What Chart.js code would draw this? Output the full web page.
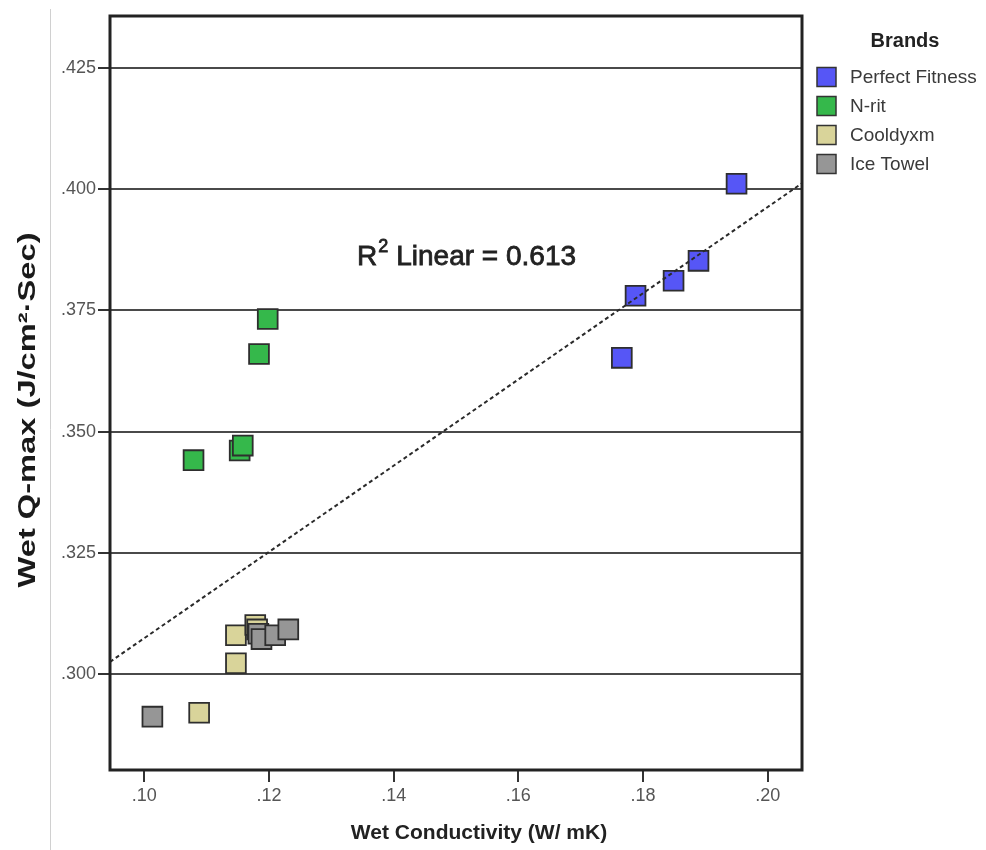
<!DOCTYPE html>
<html>
<head>
<meta charset="utf-8">
<script src="https://cdn.jsdelivr.net/npm/chart.js@4"></script>
<style>
  body { margin: 0; background: #fff; }
</style>
</head>
<body>
<canvas id="chart" width="986" height="850"></canvas>
<script>
const brands = ["Perfect Fitness", "N-rit", "Cooldyxm", "Ice Towel"];
const brandColors = ["#5656f6", "#35b84b", "#d9d49a", "#969696"];

// wet conductivity (x) / wet q-max (y) per brand
const perfectX = [0.1766, 0.1788, 0.1849, 0.1889, 0.1950];
const perfectY = [0.3652, 0.3780, 0.3811, 0.3852, 0.4011];
const nritX = [0.1079, 0.1153, 0.1158, 0.1184, 0.1198];
const nritY = [0.3441, 0.3461, 0.3471, 0.3660, 0.3732];
const cooldyxmX = [0.1088, 0.1147, 0.1147, 0.1178, 0.1181];
const cooldyxmY = [0.2920, 0.3022, 0.3080, 0.3101, 0.3092];
const iceX = [0.1013, 0.1183, 0.1188, 0.1210, 0.1231];
const iceY = [0.2912, 0.3083, 0.3072, 0.3080, 0.3092];

// fit line ends
const trendX = [0.0945, 0.2055];
const trendY = [0.3025, 0.4012];
const rSquared = "0.613";

const xTicks = [0.10, 0.12, 0.14, 0.16, 0.18, 0.20];
const yTicks = [0.300, 0.325, 0.350, 0.375, 0.400, 0.425];

const seriesX = [perfectX, nritX, cooldyxmX, iceX];
const seriesY = [perfectY, nritY, cooldyxmY, iceY];

const toPoints = (xs, ys) => xs.map((x, i) => ({ x: x, y: ys[i] }));

const datasets = brands.map((b, i) => ({
    label: b,
    data: toPoints(seriesX[i], seriesY[i]),
    pointStyle: "rect",
    pointRadius: 14,
    pointHoverRadius: 14,
    backgroundColor: brandColors[i],
    borderColor: "#2e2e2e",
    borderWidth: 1.8,
    order: brands.length - i,
}));
datasets.push({
    label: "fit",
    data: toPoints(trendX, trendY),
    showLine: true,
    borderColor: "#2a2a2a",
    borderWidth: 2,
    borderDash: [4, 3],
    pointRadius: 0,
    order: -1,
});

const FONT = "'Liberation Sans', Arial, sans-serif";

const extras = {
    id: "extras",
    afterDraw(chart) {
        const ctx = chart.ctx;
        const a = chart.chartArea;
        ctx.save();

        // page edge line
        ctx.strokeStyle = "#d0d0d0";
        ctx.lineWidth = 1;
        ctx.beginPath();
        ctx.moveTo(50.5, 9);
        ctx.lineTo(50.5, 850);
        ctx.stroke();

        // plot frame
        ctx.strokeStyle = "#222";
        ctx.lineWidth = 3;
        ctx.strokeRect(a.left, a.top, a.right - a.left, a.bottom - a.top);

        // y title, stretched along its length
        ctx.save();
        ctx.translate(28, 410);
        ctx.rotate(-Math.PI / 2);
        ctx.font = "bold 24px " + FONT;
        ctx.fillStyle = "#1a1a1a";
        ctx.textAlign = "center";
        ctx.textBaseline = "middle";
        const yt = "Wet Q-max (J/cm\u00B2\u00B7Sec)";
        const w = ctx.measureText(yt).width;
        ctx.scale(355 / w, 1);
        ctx.fillText(yt, 0, 0);
        ctx.restore();

        // x title
        ctx.font = "bold 21px " + FONT;
        ctx.fillStyle = "#222";
        ctx.textAlign = "center";
        ctx.textBaseline = "middle";
        ctx.fillText("Wet Conductivity (W/ mK)", 479, 833);

        // R squared note, slightly heavier than regular
        ctx.fillStyle = "#222";
        ctx.strokeStyle = "#222";
        ctx.lineWidth = 0.8;
        ctx.textBaseline = "alphabetic";
        ctx.textAlign = "left";
        ctx.font = "28px " + FONT;
        let x = 357;
        ctx.fillText("R", x, 265);
        ctx.strokeText("R", x, 265);
        x += ctx.measureText("R").width;
        ctx.font = "18px " + FONT;
        ctx.fillText("2", x + 1, 252);
        ctx.strokeText("2", x + 1, 252);
        x += ctx.measureText("2").width + 9;
        ctx.font = "28px " + FONT;
        ctx.fillText("Linear = " + rSquared, x, 265);
        ctx.strokeText("Linear = " + rSquared, x, 265);

        // legend
        ctx.font = "bold 20px " + FONT;
        ctx.textAlign = "center";
        ctx.textBaseline = "middle";
        ctx.fillStyle = "#222";
        ctx.fillText("Brands", 905, 41);
        ctx.font = "19px " + FONT;
        ctx.textAlign = "left";
        brands.forEach((b, i) => {
            const cy = 77 + i * 29;
            ctx.fillStyle = brandColors[i];
            ctx.fillRect(817, cy - 9.5, 19, 19);
            ctx.strokeStyle = "#333";
            ctx.lineWidth = 1.5;
            ctx.strokeRect(817, cy - 9.5, 19, 19);
            ctx.fillStyle = "#3a3a3a";
            ctx.fillText(b, 850, cy + 1);
        });
        ctx.restore();
    },
};

new Chart(document.getElementById("chart"), {
    type: "scatter",
    data: { datasets: datasets },
    options: {
        responsive: false,
        animation: false,
        devicePixelRatio: 1,
        layout: { padding: { top: 16, right: 184, bottom: 0, left: 0 } },
        plugins: { legend: { display: false }, tooltip: { enabled: false } },
        scales: {
            x: {
                type: "linear",
                min: 0.0945,
                max: 0.2055,
                afterBuildTicks: (s) => { s.ticks = xTicks.map((v) => ({ value: v })); },
                afterFit: (s) => { s.height = 80; },
                ticks: {
                    callback: (v) => v.toFixed(2).replace(/^0/, ""),
                    font: { family: FONT, size: 18 },
                    color: "#555",
                    padding: 3,
                    maxRotation: 0,
                },
                grid: { drawOnChartArea: false, tickLength: 12, tickColor: "#333", lineWidth: 2 },
                border: { display: false },
            },
            y: {
                type: "linear",
                min: 0.2802,
                max: 0.4357,
                afterBuildTicks: (s) => { s.ticks = yTicks.map((v) => ({ value: v })); },
                afterFit: (s) => { s.width = 110; },
                ticks: {
                    callback: (v) => v.toFixed(3).replace(/^0/, ""),
                    font: { family: FONT, size: 18 },
                    color: "#555",
                    padding: 2,
                },
                grid: { color: "#4a4a4a", lineWidth: 2, tickLength: 12, tickColor: "#333" },
                border: { display: false },
            },
        },
    },
    plugins: [extras],
});
</script>
</body>
</html>
